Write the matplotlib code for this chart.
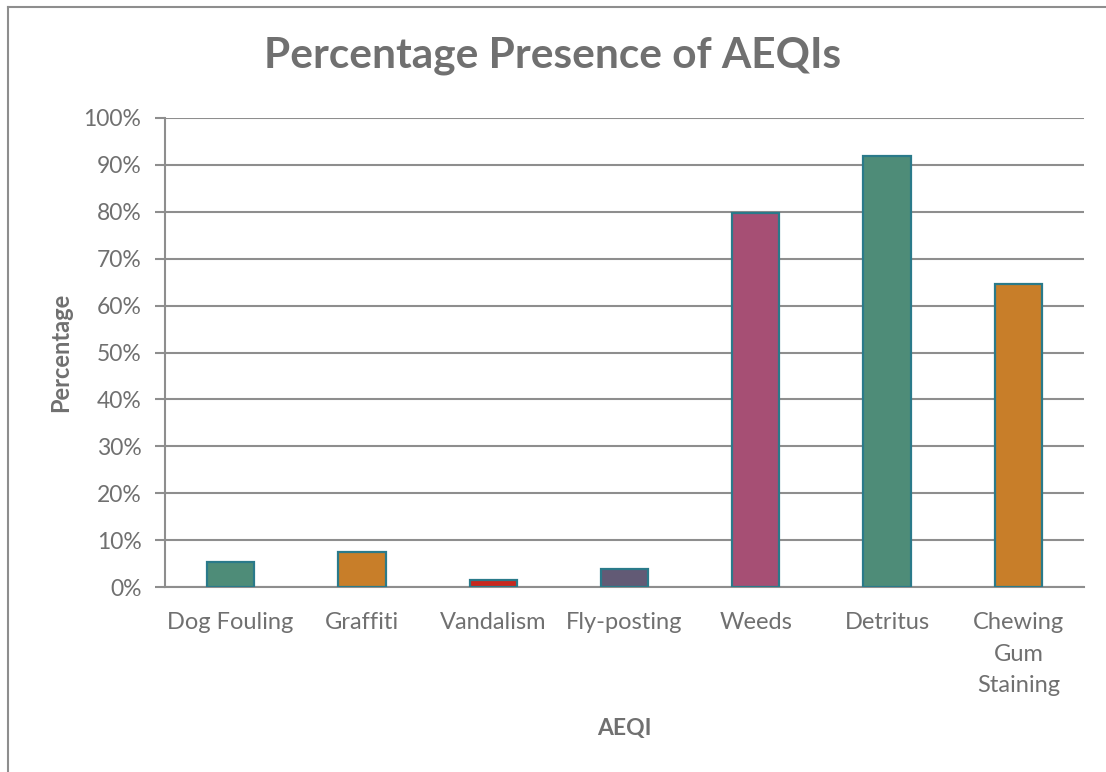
import matplotlib.pyplot as plt
from matplotlib.lines import Line2D
from matplotlib.ticker import FuncFormatter
import numpy as np

categories = ["Dog Fouling", "Graffiti", "Vandalism", "Fly-posting",
              "Weeds", "Detritus", "Chewing\nGum\nStaining"]
values = [5.3, 7.5, 1.4, 3.8, 79.8, 91.8, 64.7]
colours = ["#4e8c78", "#c87e29", "#c8281e", "#625a75",
           "#a64f74", "#4e8c78", "#c87e29"]
yticks = np.arange(0, 101, 10)

TXT = "#707070"
GRID = "#8e8e8e"
plt.rcParams['font.family'] = ['Lato', 'DejaVu Sans']

fig = plt.figure(figsize=(11.06, 7.72), dpi=100)
ax = fig.add_axes([165/1106, 1-587/772, (1084-165)/1106, (587-118)/772])

x = np.arange(len(categories))
ax.bar(x, values, width=0.36, color=colours, edgecolor="#2a7a8a", linewidth=1.6, zorder=3)

ax.set_xlim(-0.5, len(categories)-0.5)
ax.set_ylim(0, 100)
ax.set_yticks(yticks)
ax.yaxis.set_major_formatter(FuncFormatter(lambda v, p: "%d%%" % v))
ax.set_xticks(x)
ax.set_xticklabels(categories, linespacing=1.62, va='top')

ax.grid(axis='y', color=GRID, linewidth=1.5, zorder=0)
for s in ['top', 'right']:
    ax.spines[s].set_visible(False)
for s in ['left', 'bottom']:
    ax.spines[s].set_color(GRID)
    ax.spines[s].set_linewidth(1.5)
ax.tick_params(axis='y', length=7, width=1.5, color=GRID, labelcolor=TXT, labelsize=16.5, pad=10)
ax.tick_params(axis='x', length=0, labelcolor=TXT, labelsize=17, pad=18)

ax.set_ylabel("Percentage", color=TXT, fontsize=17, fontweight='bold', labelpad=8)
ax.set_xlabel("AEQI", color=TXT, fontsize=16.5, fontweight='bold', labelpad=16)
fig.text(0.5, 1-56/772, "Percentage Presence of AEQIs", ha='center', va='center',
         color=TXT, fontsize=30.5, fontweight='bold')

# chart frame (only top and left edges fall inside the image)
fx, fy = 7.5/1106, 1-6.5/772
fig.add_artist(Line2D([fx, 1.0], [fy, fy], transform=fig.transFigure, color=GRID, linewidth=1.5))
fig.add_artist(Line2D([fx, fx], [0.0, fy], transform=fig.transFigure, color=GRID, linewidth=1.5))

fig.savefig("out.png", dpi=100)
